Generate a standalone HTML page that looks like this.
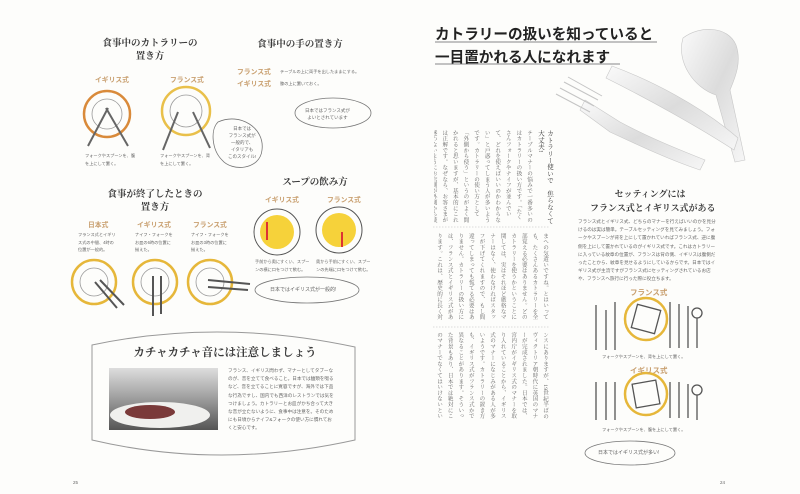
<!DOCTYPE html>
<html><head><meta charset="utf-8">
<style>
html,body{margin:0;padding:0;}
body{width:800px;height:494px;background:#fdfdfb;position:relative;overflow:hidden;font-family:"Liberation Serif","Noto Serif CJK SC",serif;color:#333;}
.a{position:absolute;white-space:nowrap;}
.t{font-family:"Liberation Serif","Noto Serif CJK SC",serif;font-weight:bold;font-size:9.5px;color:#3a3a3a;text-align:center;line-height:13px;}
.g{font-family:"Liberation Sans","Noto Sans CJK JP",sans-serif;font-weight:bold;font-size:6.8px;color:#c9a070;}
.s{font-family:"Liberation Sans","Noto Sans CJK JP",sans-serif;font-size:4.2px;color:#666;line-height:7.5px;}
.v{position:absolute;writing-mode:vertical-rl;font-family:"Liberation Serif","Noto Serif CJK JP",serif;font-size:5.6px;line-height:10.6px;color:#666;letter-spacing:0.2px;overflow:hidden;}
.p{font-family:"Liberation Sans","Noto Sans CJK JP",sans-serif;font-size:4.6px;color:#666;line-height:8.2px;white-space:normal;}
</style></head><body>
<svg class="a" style="left:0;top:0" width="800" height="494">
 <defs>
  <linearGradient id="met" x1="0" y1="0" x2="1" y2="1"><stop offset="0" stop-color="#fafafa"/><stop offset=".5" stop-color="#dcdcdc"/><stop offset="1" stop-color="#f6f6f6"/></linearGradient>
  <linearGradient id="ph" x1="0" y1="0" x2="0" y2="1"><stop offset="0" stop-color="#ddd"/><stop offset=".4" stop-color="#aaa"/><stop offset="1" stop-color="#555"/></linearGradient>
 </defs>
 <g fill="none">
  <circle cx="107" cy="114" r="23" stroke="#d98a3a" stroke-width="2.5"/><circle cx="107" cy="114" r="15" stroke="#999" stroke-width=".8"/>
  <circle cx="186" cy="111" r="24" stroke="#e9c04a" stroke-width="2.5"/><circle cx="186" cy="111" r="16" stroke="#999" stroke-width=".8"/>
  <line x1="88" y1="146" x2="108" y2="108" stroke="#666" stroke-width="2"/><line x1="128" y1="146" x2="106" y2="108" stroke="#666" stroke-width="2"/>
  <line x1="163" y1="150" x2="178" y2="112" stroke="#666" stroke-width="2"/><line x1="210" y1="148" x2="193" y2="112" stroke="#666" stroke-width="2"/>
  <path d="M218 122 C 240 112,265 128,262 150 C 260 170,232 172,222 160 C 212 150,210 130,218 122 Z" stroke="#777" stroke-width=".8"/>
  <ellipse cx="333" cy="113" rx="38" ry="15" stroke="#777" stroke-width=".8"/>
  <circle cx="277" cy="232" r="23" stroke="#555" stroke-width="1"/><circle cx="277" cy="232" r="17" fill="#f6d23a"/>
  <circle cx="339" cy="230" r="23" stroke="#555" stroke-width="1"/><circle cx="339" cy="230" r="17" fill="#f6d23a"/>
  <line x1="267" y1="240" x2="267" y2="222" stroke="#d33" stroke-width="2"/><line x1="342" y1="232" x2="342" y2="247" stroke="#d33" stroke-width="2"/>
  <ellipse cx="307" cy="290" rx="52" ry="13" stroke="#777" stroke-width=".8"/>
  <circle cx="94" cy="282" r="22" stroke="#e6b73a" stroke-width="2.5"/><circle cx="94" cy="282" r="14" stroke="#999" stroke-width=".8"/>
  <circle cx="155" cy="282" r="22" stroke="#e6b73a" stroke-width="2.5"/><circle cx="155" cy="282" r="14" stroke="#999" stroke-width=".8"/>
  <circle cx="210" cy="282" r="22" stroke="#e6b73a" stroke-width="2.5"/><circle cx="210" cy="282" r="14" stroke="#999" stroke-width=".8"/>
  <line x1="95" y1="282" x2="117" y2="308" stroke="#555" stroke-width="2"/><line x1="100" y1="280" x2="124" y2="305" stroke="#555" stroke-width="2"/>
  <line x1="153" y1="276" x2="153" y2="316" stroke="#555" stroke-width="2"/><line x1="161" y1="276" x2="161" y2="314" stroke="#555" stroke-width="2"/>
  <line x1="208" y1="280" x2="250" y2="284" stroke="#555" stroke-width="2"/><line x1="208" y1="287" x2="248" y2="290" stroke="#555" stroke-width="2"/>
  <path d="M92 345 Q220 318 355 347 L355 440 Q220 470 92 440 Z" stroke="#999" stroke-width="1"/>
 </g>
 <rect x="109" y="368" width="109" height="62" fill="url(#ph)"/>
 <ellipse cx="160" cy="415" rx="50" ry="13" fill="#f0f0ee"/>
 <ellipse cx="150" cy="412" rx="25" ry="7" fill="#7a3a3a"/>
 <!-- cutlery photo -->
 <path d="M683 38 C700 25,728 26,736 45 C742 62,735 78,730 90 L745 160 L735 162 L716 95 C694 88,676 62,683 38 Z" fill="url(#met)" stroke="#c8c8c8" stroke-width=".6"/>
 <path d="M612 66 C650 80,700 105,738 138 L734 150 C700 128,650 100,606 78 Z" fill="url(#met)" stroke="#c8c8c8" stroke-width=".6"/>
 <path d="M585 100 L620 122 C650 138,680 150,705 160 L700 170 C670 160,640 146,610 132 L580 110 Z" fill="url(#met)" stroke="#c8c8c8" stroke-width=".6"/>
 <g stroke="#c4c4c4" stroke-width="1"><line x1="556" y1="94" x2="590" y2="112"/><line x1="560" y1="88" x2="594" y2="106"/><line x1="564" y1="82" x2="598" y2="100"/><line x1="568" y1="77" x2="602" y2="96"/></g>
 <line x1="435" y1="42" x2="657" y2="42" stroke="#888" stroke-width="1"/>
 <line x1="435" y1="64" x2="620" y2="64" stroke="#888" stroke-width="1"/>
 <line x1="433" y1="227" x2="550" y2="227" stroke="#bbb" stroke-width=".6" stroke-dasharray="1.5 1.5"/>
 <line x1="433" y1="327" x2="550" y2="327" stroke="#bbb" stroke-width=".6" stroke-dasharray="1.5 1.5"/>
 <g fill="none" stroke="#555" stroke-width="1.3">
  <circle cx="646" cy="319" r="21" stroke="#e6b73a" stroke-width="2.5"/>
  <rect x="634" y="307" width="24" height="24" transform="rotate(15 646 319)"/>
  <circle cx="646" cy="394" r="21" stroke="#e6b73a" stroke-width="2.5"/>
  <rect x="634" y="382" width="24" height="24" transform="rotate(-10 646 394)"/>
  <path d="M596 305 V350 M606 310 V350 M615 302 V350 M670 302 V348 M679 304 V348 M688 306 V348"/>
  <circle cx="697" cy="313" r="5"/><path d="M697 318 V348"/>
  <path d="M596 382 V420 M606 382 V420 M615 382 V420 M670 382 V418 M679 382 V418 M688 384 V418"/>
  <circle cx="697" cy="390" r="5"/><path d="M697 395 V420"/>
  <ellipse cx="630" cy="453" rx="45" ry="12" stroke="#777" stroke-width=".8"/>
 </g>
</svg>

<div class="a t" style="left:95px;top:38px;width:110px">食事中のカトラリーの<br>置き方</div>
<div class="a g" style="left:95px;top:74px">イギリス式</div>
<div class="a g" style="left:170px;top:74px">フランス式</div>
<div class="a s" style="left:85px;top:152px">フォークやスプーンを、腹<br>を上にして置く。</div>
<div class="a s" style="left:160px;top:152px">フォークやスプーンを、背<br>を上にして置く。</div>
<div class="a s" style="left:228px;top:125px;text-align:center;line-height:7px;font-size:4.5px">日本では<br>フランス式が<br>一般的で、<br>イタリアも<br>このスタイル!</div>
<div class="a t" style="left:250px;top:39px;width:100px">食事中の手の置き方</div>
<div class="a g" style="left:237px;top:66px">フランス式</div>
<div class="a g" style="left:237px;top:78px">イギリス式</div>
<div class="a s" style="left:280px;top:68px">テーブルの上に両手を出したままにする。</div>
<div class="a s" style="left:280px;top:80px">膝の上に置いておく。</div>
<div class="a s" style="left:305px;top:107px;text-align:center;font-size:4.5px;line-height:7px">日本ではフランス式が<br>よいとされています</div>
<div class="a t" style="left:270px;top:177px;width:90px">スープの飲み方</div>
<div class="a g" style="left:265px;top:194px">イギリス式</div>
<div class="a g" style="left:327px;top:194px">フランス式</div>
<div class="a s" style="left:255px;top:258px">手前から奥にすくい、スプー<br>ンの横に口をつけて飲む。</div>
<div class="a s" style="left:316px;top:258px">奥から手前にすくい、スプー<br>ンの先端に口をつけて飲む。</div>
<div class="a s" style="left:270px;top:287px;font-size:5px">日本ではイギリス式が一般的!</div>
<div class="a t" style="left:100px;top:189px;width:110px">食事が終了したときの<br>置き方</div>
<div class="a g" style="left:88px;top:219px">日本式</div>
<div class="a g" style="left:137px;top:219px">イギリス式</div>
<div class="a g" style="left:193px;top:219px">フランス式</div>
<div class="a s" style="left:78px;top:231px">フランス式とイギリ<br>ス式の中間、4時の<br>位置が一般的。</div>
<div class="a s" style="left:135px;top:231px">ナイフ・フォークを<br>お皿の6時の位置に<br>揃えた。</div>
<div class="a s" style="left:191px;top:231px">ナイフ・フォークを<br>お皿の3時の位置に<br>揃えた。</div>
<div class="a t" style="left:130px;top:347px;width:190px;font-size:11.5px">カチャカチャ音には注意しましょう</div>
<div class="a p" style="left:228px;top:367px;width:106px">フランス、イギリス問わず、マナーとしてタブーなのが、音を立てて食べること。日本では麺類を啜るなど、音を立てることに寛容ですが、海外では下品な行為ですし、国内でも西洋のレストランでは気をつけましょう。カトラリーとお皿がかち合って大きな音が立たないように、食事中は注意を。そのためにも日頃からナイフ&amp;フォークの使い方に慣れておくと安心です。</div>
<div class="a s" style="left:73px;top:479px;font-size:4.5px">25</div>

<div class="a" style="left:435px;top:23px;font-family:'Liberation Sans','Noto Sans CJK JP',sans-serif;font-weight:bold;font-size:14.6px;color:#222">カトラリーの扱いを知っていると</div>
<div class="a" style="left:435px;top:46px;font-family:'Liberation Sans','Noto Sans CJK JP',sans-serif;font-weight:bold;font-size:14.6px;color:#222">一目置かれる人になれます</div>
<div class="v" style="left:434px;top:130px;width:100px;height:93px">テーブルマナーの悩みで一番多いのはカトラリーの扱い方です。「たくさんフォークやナイフが並んでいて、どれを使えばいいのかわからない」と戸惑ってしまう人が多いようです。カトラリーの使い方として「外側から使う」というのがよく聞かれると思いますが、基本的にこれは正解です。なぜなら、お客さまが迷わないようにお店側が外側から使うように配置してくれているからです。お店からお客さ</div>
<div class="v" style="left:536px;top:130px;width:18px;height:95px;font-size:6.5px;line-height:9px;color:#333">カトラリー使いで　焦らなくて大丈夫!</div>
<div class="v" style="left:434px;top:233px;width:116px;height:90px">まへの気遣いですね。とはいっても、たくさんあるカトラリーを全部覚える必要はありません。どのカトラリーを使うかということに関しては、実はそれほど厳格なマナーはなく、使わなければスタッフが下げてくれますので、もし間違ってしまっても慌てる必要はありません。カトラリーの扱い方には、フランス式とイギリス式があります。これは、歴史的に長く対立していたことから、テーブルマナーに関してはわざと違う作法になっていることがあるのです。伝統を守るものはマナーの源流はフラ</div>
<div class="v" style="left:434px;top:332px;width:116px;height:90px">ンスにありますが、19世紀半ばのヴィクトリア朝時代に英国のマナーが完成されました。日本では、宮内庁がイギリス式のマナーを取り入れていることから、イギリス式のマナーになじみがある人が多いようです。カトラリーの置き方も、イギリス式がフランス式かで異なることがあります。そういった背景もあり、日本では絶対にこのマナーでなくてはいけないというものはありません。ただ、知っておくと海外に行ったときや、国内でもフランス料理の一流店に行ったときに役立ちます。</div>
<div class="a t" style="left:590px;top:187px;width:120px;font-size:9px;line-height:14px">セッティングには<br>フランス式とイギリス式がある</div>
<div class="a p" style="left:578px;top:218px;width:140px">フランス式とイギリス式、どちらのマナーを行えばいいのかを見分けるのは実は簡単。テーブルセッティングを見てみましょう。フォークやスプーンが背を上にして置かれていればフランス式、逆に腹側を上にして置かれているのがイギリス式です。これはカトラリーに入っている紋章の位置が、フランスは背の側、イギリスは腹側だったことから、紋章を見せるようにしているからです。日本ではイギリス式が主流ですがフランス式にセッティングされているお店や、フランスへ旅行に行った際に役立ちます。</div>
<div class="a g" style="left:630px;top:287px;font-size:7.5px">フランス式</div>
<div class="a s" style="left:602px;top:353px">フォークやスプーンを、背を上にして置く。</div>
<div class="a g" style="left:630px;top:365px;font-size:7.5px">イギリス式</div>
<div class="a s" style="left:602px;top:426px">フォークやスプーンを、腹を上にして置く。</div>
<div class="a s" style="left:598px;top:450px;font-size:5px">日本ではイギリス式が多い!</div>
<div class="a s" style="left:720px;top:479px;font-size:4.5px">24</div>
</body></html>
